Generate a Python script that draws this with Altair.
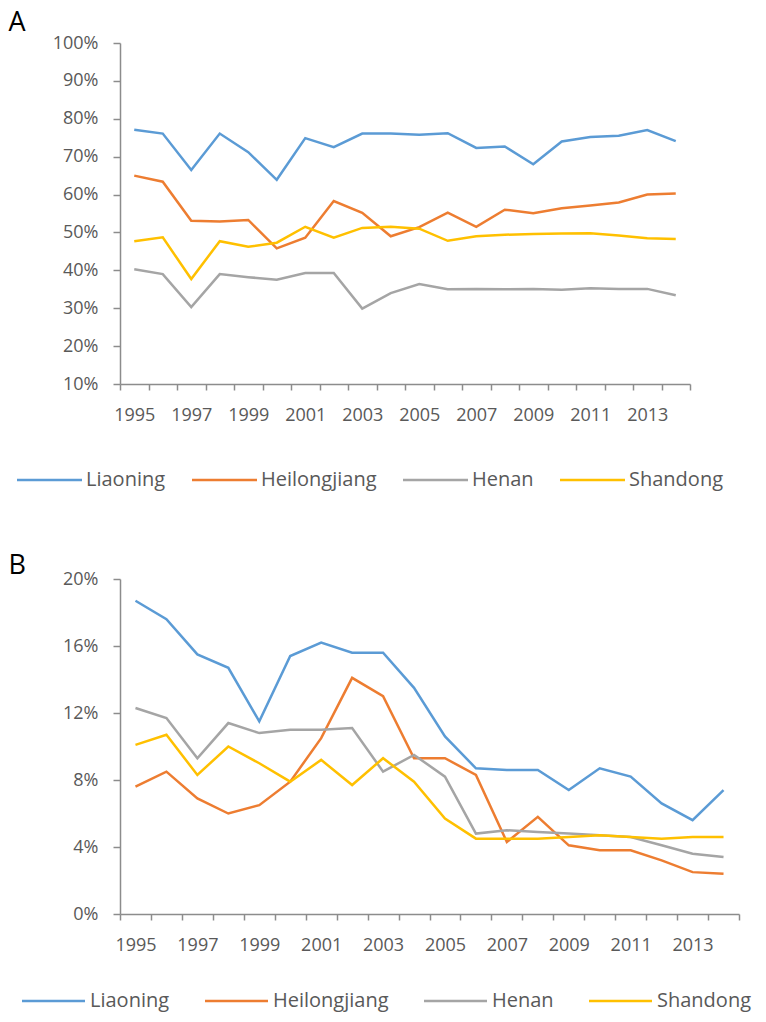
import altair as alt
import pandas as pd

years = list(range(1995, 2015))
provinces = ["Liaoning", "Heilongjiang", "Henan", "Shandong"]
colors = ["#5B9BD5", "#ED7D31", "#A5A5A5", "#FFC000"]

# Panel A (share, %)
a_liaoning = [77.1, 76.1, 66.5, 76.1, 71.2, 63.9, 74.9, 72.5, 76.1, 76.1,
              75.8, 76.2, 72.3, 72.7, 68.0, 74.0, 75.2, 75.5, 77.0, 74.1]
a_heilongjiang = [65.0, 63.4, 53.1, 52.9, 53.3, 45.8, 48.6, 58.3, 55.2, 49.0,
                  51.4, 55.2, 51.5, 56.0, 55.1, 56.4, 57.1, 57.9, 60.0, 60.3]
a_henan = [40.3, 39.0, 30.3, 39.0, 38.2, 37.5, 39.3, 39.3, 29.9, 34.0,
           36.4, 35.0, 35.1, 35.0, 35.1, 34.9, 35.3, 35.1, 35.1, 33.4]
a_shandong = [47.7, 48.7, 37.7, 47.7, 46.2, 47.3, 51.5, 48.6, 51.2, 51.5,
              51.0, 47.8, 49.0, 49.4, 49.6, 49.7, 49.8, 49.2, 48.5, 48.3]

# Panel B (share, %)
b_liaoning = [18.7, 17.6, 15.5, 14.7, 11.5, 15.4, 16.2, 15.6, 15.6, 13.5,
              10.6, 8.7, 8.6, 8.6, 7.4, 8.7, 8.2, 6.6, 5.6, 7.4]
b_heilongjiang = [7.6, 8.5, 6.9, 6.0, 6.5, 7.9, 10.5, 14.1, 13.0, 9.3,
                  9.3, 8.3, 4.3, 5.8, 4.1, 3.8, 3.8, 3.2, 2.5, 2.4]
b_henan = [12.3, 11.7, 9.3, 11.4, 10.8, 11.0, 11.0, 11.1, 8.5, 9.5,
           8.2, 4.8, 5.0, 4.9, 4.8, 4.7, 4.6, 4.1, 3.6, 3.4]
b_shandong = [10.1, 10.7, 8.3, 10.0, 9.0, 7.9, 9.2, 7.7, 9.3, 7.9,
              5.7, 4.5, 4.5, 4.5, 4.6, 4.7, 4.6, 4.5, 4.6, 4.6]

a_ticks = [0.1, 0.2, 0.3, 0.4, 0.5, 0.6, 0.7, 0.8, 0.9, 1.0]
b_ticks = [0.0, 0.04, 0.08, 0.12, 0.16, 0.2]


def to_df(series):
    rows = []
    for name, vals in zip(provinces, series):
        for y, v in zip(years, vals):
            rows.append({"Year": y, "Province": name, "Value": v / 100.0})
    return pd.DataFrame(rows)


df_a = to_df([a_liaoning, a_heilongjiang, a_henan, a_shandong])
df_b = to_df([b_liaoning, b_heilongjiang, b_henan, b_shandong])

FONT = "Open Sans"
TXT = "#595959"
AX = "#8c8c8c"


def panel(df, letter, domain, ticks, w, h, title_y, legx, legy, colpad,
          sym_path, lab_off):
    return alt.Chart(df).mark_line(strokeWidth=2.5).encode(
        x=alt.X(
            "Year:O",
            bandPosition=0.5,
            scale=alt.Scale(type="band", paddingInner=0, paddingOuter=0),
            axis=alt.Axis(
                title=None, labelAngle=0, tickBand="extent",
                labelExpr="datum.value % 2 == 1 ? datum.label : ''",
                labelPadding=16,
            ),
        ),
        y=alt.Y(
            "Value:Q",
            scale=alt.Scale(domain=domain, nice=False, zero=False),
            axis=alt.Axis(
                title=letter, values=ticks, format=".0%",
                labelPadding=15, tickSize=7,
                titleAngle=0, titleAlign="left", titleBaseline="top",
                titleX=-112, titleY=title_y, titleFont=FONT,
                titleFontSize=27, titleFontWeight="normal", titleColor="#000000",
            ),
        ),
        color=alt.Color(
            "Province:N",
            scale=alt.Scale(domain=provinces, range=colors),
            legend=alt.Legend(
                title=None, orient="none", direction="horizontal",
                legendX=legx, legendY=legy, symbolType=sym_path,
                symbolSize=256, symbolStrokeWidth=2.5, columnPadding=colpad,
                labelFont=FONT, labelFontSize=20, labelColor=TXT,
                labelOffset=lab_off, padding=0,
            ),
        ),
    ).properties(width=w, height=h)


chart_a = panel(df_a, "A", [0.1, 1.0], a_ticks, 570, 341, -34,
                -105, 427, 21, "M-1,0H7.125", 51)
chart_b = panel(df_b, "B", [0.0, 0.2], b_ticks, 619, 335, -27,
                -100, 412, 30, "M-1,0H6.875", 50)

chart = alt.vconcat(chart_a, chart_b, spacing=61).resolve_scale(
    color="independent"
).resolve_legend(color="independent").configure_axis(
    labelFont=FONT, labelFontSize=18, labelColor=TXT,
    domainColor=AX, domainWidth=1.5, tickColor=AX, tickWidth=1.5, tickSize=6,
    grid=False,
).configure_view(stroke=None).properties(
    padding={"left": 0, "top": 0, "right": 0, "bottom": 6}
)

chart.save("out.html", embed_options={"renderer": "svg", "actions": False})
